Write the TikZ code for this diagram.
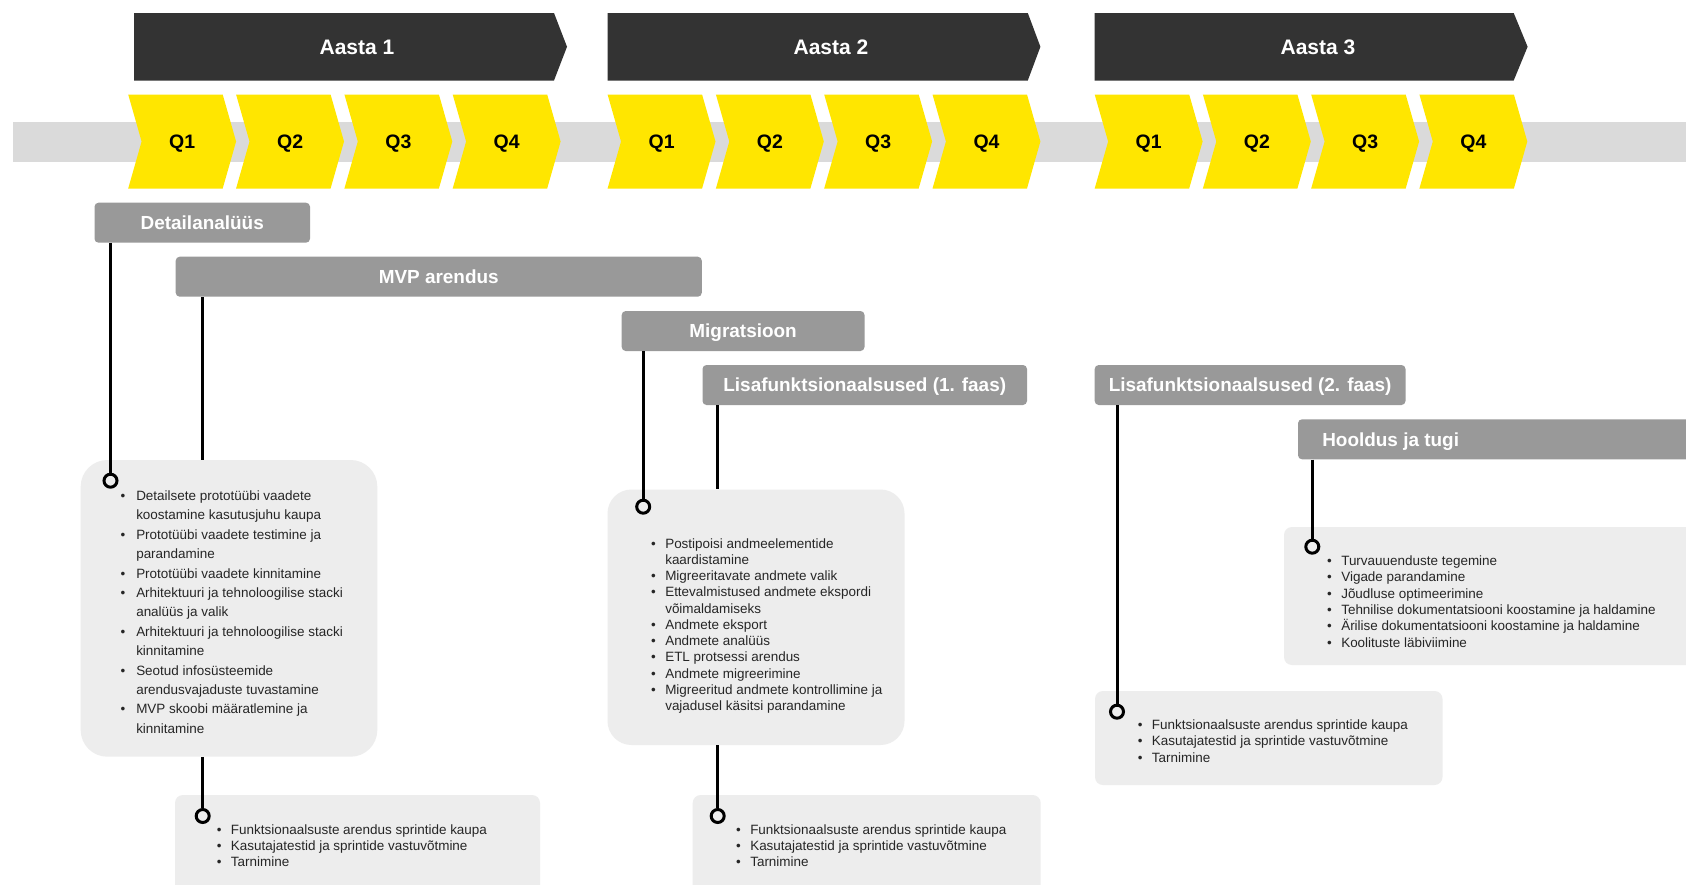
\documentclass[tikz,border=0pt]{standalone}
\usepackage{fontspec}
\setmainfont{Liberation Sans}
\usetikzlibrary{fit}

\definecolor{yearfill}{HTML}{333333}
\definecolor{qfill}{HTML}{FFE600}
\definecolor{bandfill}{HTML}{DADADA}
\definecolor{phasefill}{HTML}{999999}
\definecolor{boxfill}{HTML}{EDEDED}
\definecolor{listink}{HTML}{262626}

% one bullet list, first line on the node's base line
\newcommand\tasks[2]{\begin{tabular}[t]{@{}c@{\hspace{#1}}l@{}}#2\end{tabular}}

\begin{document}
\begin{tikzpicture}[x=0.75pt,y=-0.75pt,
  yeartext/.style={text=white,font=\fontsize{15.75pt}{18pt}\selectfont\bfseries,
    inner sep=0pt,text height=11.3pt,text depth=0pt},
  qtext/.style={text=black,font=\fontsize{14.6pt}{17pt}\selectfont\bfseries,
    inner sep=0pt,text height=10.45pt,text depth=0pt},
  phase/.style={fill=phasefill,draw=none,rounded corners=3pt,inner sep=0pt},
  phasetext/.style={text=white,font=\fontsize{14.2pt}{17pt}\selectfont\bfseries,
    inner sep=0pt,text height=10.2pt,text depth=0pt},
  detail/.style={fill=boxfill,draw=none,inner sep=0pt,rounded corners=#1},
  detail/.default=6pt,
  conn/.style={draw=black,line width=2.25pt},
  pin/.style={circle,draw=black,line width=2.25pt,fill=boxfill,
    minimum size=9.75pt,inner sep=0pt},
  listtext/.style={anchor=base west,inner sep=0pt,text=listink,align=left,
    font=\fontsize{10.1pt}{12.2pt}\selectfont},
  widelist/.style={listtext,font=\fontsize{10.1pt}{14.55pt}\selectfont}]

\clip (0,0) rectangle (1686,885);
\fill[white] (0,0) rectangle (1686,885);

% timeline band
\fill[bandfill] (13,121.7) rectangle (1700,161.7);

% year arrows
\fill[yearfill] (134,13) -- (554,13) -- (567,46.75) -- (554,80.5) -- (134,80.5) -- cycle;
\fill[yearfill] (607.6,13) -- (1027.8,13) -- (1040.4,46.75) -- (1027.8,80.5) -- (607.6,80.5) -- cycle;
\fill[yearfill] (1094.7,13) -- (1513.7,13) -- (1527.6,46.75) -- (1513.7,80.5) -- (1094.7,80.5) -- cycle;
\node[yeartext] (y1) at (357,46.75) {Aasta 1};
\node[yeartext] (y2) at (831,46.75) {Aasta 2};
\node[yeartext] (y3) at (1318,46.75) {Aasta 3};

% quarter chevrons
\foreach \qx/\ql/\nm in {128.2/Q1/a1,236.1/Q2/a2,344.4/Q3/a3,452.7/Q4/a4,
    607.6/Q1/b1,715.9/Q2/b2,824.2/Q3/b3,932.5/Q4/b4,
    1094.7/Q1/c1,1202.9/Q2/c2,1311.2/Q3/c3,1419.4/Q4/c4}{
  \fill[qfill] (\qx,94.5) -- ++(94.5,0) -- ++(13.4,47) -- ++(-13.4,47)
     -- ++(-94.5,0) -- ++(13.4,-47) -- cycle;
  \node[qtext] (q\nm) at (\qx+54,141.5) {\ql};
}

% phase bars
\node[phase,fit={(94.5,202.7) (310,242.7)}] (det) {};
\node[phasetext] (detT) at (det.center) {Detailanalüüs};
\node[phase,fit={(175.7,256.7) (701.8,296.7)}] (mvp) {};
\node[phasetext] (mvpT) at (mvp.center) {MVP arendus};
\node[phase,fit={(621.7,311) (864.5,351)}] (mig) {};
\node[phasetext] (migT) at (mig.center) {Migratsioon};
\node[phase,fit={(702.5,365) (1027,405)}] (lisa1) {};
\node[phasetext] (lisa1T) at (lisa1.center) {Lisafunktsionaalsused (1. faas)};
\node[phase,fit={(1094.7,365) (1405.5,405)}] (lisa2) {};
\node[phasetext] (lisa2T) at (lisa2.center) {Lisafunktsionaalsused (2. faas)};
\node[phase,fit={(1298,419.3) (1720,459.3)}] (hool) {};
\node[phasetext,anchor=west] (hoolT) at (1322,439.3) {Hooldus ja tugi};

% task boxes
\node[detail=20pt,fit={(80.7,460) (377.3,756.7)}] (bx1) {};
\node[detail=18pt,fit={(607.5,489.5) (904.5,745)}] (bx2) {};
\node[detail,fit={(175,795) (540,900)}] (bx3) {};
\node[detail,fit={(692.7,795) (1040.7,900)}] (bx4) {};
\node[detail,fit={(1095,691) (1442.5,785)}] (bx5) {};
\node[detail,fit={(1284,527) (1720,665)}] (bx6) {};

% pins
\node[pin] (p1) at (110.5,480.7) {};
\node[pin] (p2) at (643.2,506.7) {};
\node[pin] (p3) at (202.7,816) {};
\node[pin] (p4) at (717.7,816) {};
\node[pin] (p5) at (1117,711.7) {};
\node[pin] (p6) at (1312.3,546.7) {};

% connectors from the bars to the pins
\draw[conn] (det.south -| p1) -- (p1);
\draw[conn] (mvp.south -| p3) -- (bx1.north -| p3);
\draw[conn] (bx1.south -| p3) -- (p3);
\draw[conn] (mig.south -| p2) -- (p2);
\draw[conn] (lisa1.south -| p4) -- (bx2.north -| p4);
\draw[conn] (bx2.south -| p4) -- (p4);
\draw[conn] (lisa2.south -| p5) -- (p5);
\draw[conn] (hool.south -| p6) -- (p6);

% task lists
\node[widelist] (l1) at (120.35,500.4) {\tasks{8.2pt}{%
  \textbullet & Detailsete prototüübi vaadete\\
   & koostamine kasutusjuhu kaupa\\
  \textbullet & Prototüübi vaadete testimine ja\\
   & parandamine\\
  \textbullet & Prototüübi vaadete kinnitamine\\
  \textbullet & Arhitektuuri ja tehnoloogilise stacki\\
   & analüüs ja valik\\
  \textbullet & Arhitektuuri ja tehnoloogilise stacki\\
   & kinnitamine\\
  \textbullet & Seotud infosüsteemide\\
   & arendusvajaduste tuvastamine\\
  \textbullet & MVP skoobi määratlemine ja\\
   & kinnitamine}};

\node[listtext] (l2) at (650.95,548) {\tasks{7pt}{%
  \textbullet & Postipoisi andmeelementide\\
   & kaardistamine\\
  \textbullet & Migreeritavate andmete valik\\
  \textbullet & Ettevalmistused andmete ekspordi\\
   & võimaldamiseks\\
  \textbullet & Andmete eksport\\
  \textbullet & Andmete analüüs\\
  \textbullet & ETL protsessi arendus\\
  \textbullet & Andmete migreerimine\\
  \textbullet & Migreeritud andmete kontrollimine ja\\
   & vajadusel käsitsi parandamine}};

\node[listtext] (l3) at (216.65,834) {\tasks{7pt}{%
  \textbullet & Funktsionaalsuste arendus sprintide kaupa\\
  \textbullet & Kasutajatestid ja sprintide vastuvõtmine\\
  \textbullet & Tarnimine}};

\node[listtext] (l4) at (735.95,834) {\tasks{7pt}{%
  \textbullet & Funktsionaalsuste arendus sprintide kaupa\\
  \textbullet & Kasutajatestid ja sprintide vastuvõtmine\\
  \textbullet & Tarnimine}};

\node[listtext] (l5) at (1137.65,729.7) {\tasks{7pt}{%
  \textbullet & Funktsionaalsuste arendus sprintide kaupa\\
  \textbullet & Kasutajatestid ja sprintide vastuvõtmine\\
  \textbullet & Tarnimine}};

\node[listtext] (l6) at (1326.95,565.7) {\tasks{7pt}{%
  \textbullet & Turvauuenduste tegemine\\
  \textbullet & Vigade parandamine\\
  \textbullet & Jõudluse optimeerimine\\
  \textbullet & Tehnilise dokumentatsiooni koostamine ja haldamine\\
  \textbullet & Ärilise dokumentatsiooni koostamine ja haldamine\\
  \textbullet & Koolituste läbiviimine}};

\end{tikzpicture}
\end{document}
